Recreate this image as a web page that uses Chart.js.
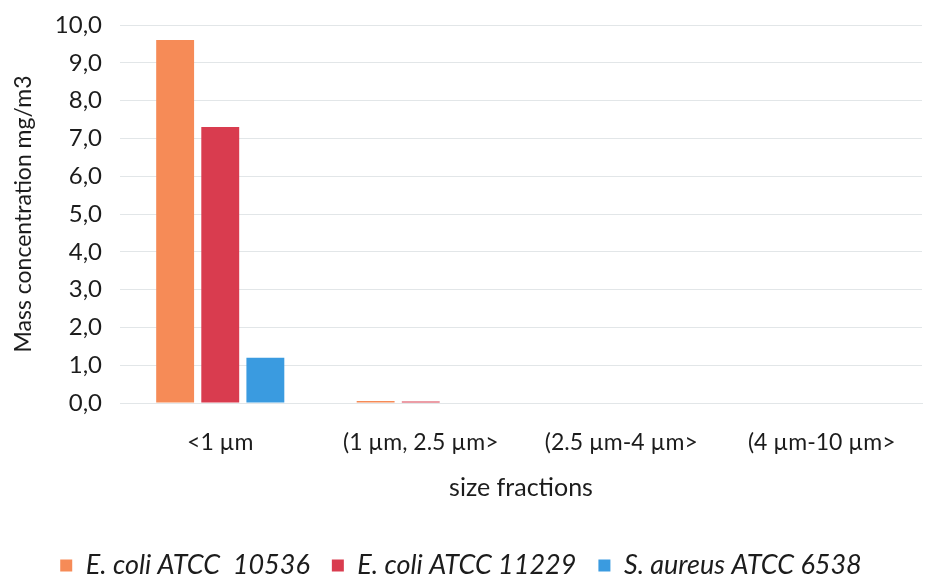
<!DOCTYPE html>
<html>
<head>
<meta charset="utf-8">
<script src="https://cdn.jsdelivr.net/npm/chart.js@4"></script>
<style>
  html, body { margin: 0; padding: 0; background: #fff; }
  #wrap { width: 932px; height: 574px; }
</style>
</head>
<body>
<div id="wrap"><canvas id="chart" width="932" height="574"></canvas></div>
<script>
/* ---------- DATA ---------- */
const categories = ['<1 µm', '(1 µm, 2.5 µm>', '(2.5 µm-4 µm>', '(4 µm-10 µm>'];
const seriesNames = ['E. coli ATCC  10536', 'E. coli ATCC 11229', 'S. aureus ATCC 6538'];
const ecoli10536 = [9.6, 0.05, 0, 0];
const ecoli11229 = [7.3, 0.04, 0, 0];
const saureus6538 = [1.2, 0, 0, 0];
const yTicks = [0, 1, 2, 3, 4, 5, 6, 7, 8, 9, 10];

const colors = ['#f68b57', '#d93c4f', '#3a9be0'];
const FONT = 'Lato, "Open Sans", sans-serif';
const TEXT = '#1c1c1c';

/* ---------- CHART ---------- */
const ctx = document.getElementById('chart').getContext('2d');
new Chart(ctx, {
  type: 'bar',
  data: {
    labels: categories,
    datasets: [ecoli10536, ecoli11229, saureus6538].map((vals, i) => ({
      label: seriesNames[i],
      data: vals,
      backgroundColor: colors[i],
      borderWidth: 0,
      categoryPercentage: 0.675,
      barPercentage: 0.84
    }))
  },
  options: {
    responsive: false,
    animation: false,
    layout: { padding: { top: 25, right: 10, left: 0, bottom: -15 } },
    plugins: {
      legend: {
        position: 'bottom',
        labels: {
          font: { family: FONT, size: 27, style: 'italic' },
          color: TEXT,
          boxWidth: 12,
          boxHeight: 12,
          padding: 22
        }
      },
      tooltip: { enabled: false }
    },
    scales: {
      y: {
        min: 0,
        max: 10,
        afterBuildTicks: axis => { axis.ticks = yTicks.map(v => ({ value: v })); },
        afterFit: axis => { axis.width = 120; axis.paddingTop = 0; axis.paddingBottom = 0; },
        ticks: {
          font: { family: FONT, size: 24 },
          color: TEXT,
          padding: 18,
          callback: v => v.toFixed(1).replace('.', ',')
        },
        grid: { color: '#e2e6e8', drawTicks: false },
        border: { display: false },
        title: {
          display: true,
          text: 'Mass concentration mg/m3',
          font: { family: FONT, size: 23 },
          color: TEXT,
          padding: { top: 10, bottom: 0 }
        }
      },
      x: {
        afterFit: axis => { axis.height = 127; },
        ticks: {
          font: { family: FONT, size: 23 },
          color: TEXT,
          padding: 18
        },
        grid: { display: false },
        border: { color: '#e2e6e8' },
        title: {
          display: true,
          text: 'size fractions',
          font: { family: FONT, size: 25 },
          color: TEXT,
          padding: { top: 0, bottom: 27 }
        }
      }
    }
  }
});
</script>
</body>
</html>
